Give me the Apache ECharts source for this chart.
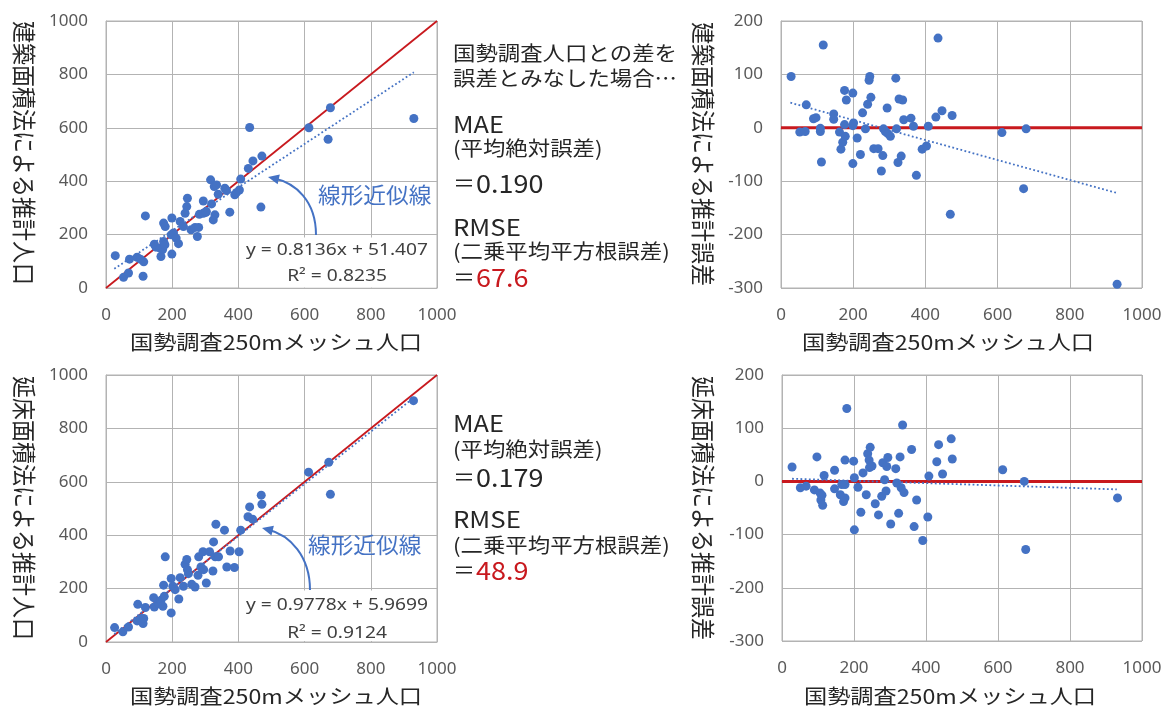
<!DOCTYPE html>
<html>
<head>
<meta charset="utf-8">
<script src="https://cdn.jsdelivr.net/npm/echarts@6/dist/echarts.min.js"></script>
<style>
html, body { margin: 0; padding: 0; background: #fff; }
#main { width: 1166px; height: 706px; }
</style>
</head>
<body>
<div id="main"></div>
<script>
// 建築面積法：推計人口（上段左）
const buildingEst = [
  [28,121],[53,40],[68,56],[71,108],[94,115],[104,108],[114,98],[112,44],[119,270],
  [146,164],[151,153],[164,149],[166,118],[171,144],[174,174],[174,243],[178,162],[179,230],
  [199,127],[197,199],[199,262],[204,206],[212,187],[219,166],[224,249],[234,230],
  [239,280],[244,305],[246,336],[257,218],[269,227],[276,193],[280,227],[282,276],
  [294,280],[294,326],[302,283],[303,287],[316,405],[319,315],[324,255],[329,274],[327,380],
  [334,386],[339,351],[359,374],[364,365],[374,284],[389,349],[394,357],[403,367],
  [407,408],[430,448],[444,476],[434,601],[471,494],[468,303],[613,600],[678,675],
  [671,557],[930,635]
];
// 建築面積法：推計誤差（上段右）
const buildingErr = [
  [28,96],[52,-8],[67,-7],[70,43],[90,17],[97,19],[109,-1],[109,-7],[112,-64],[117,155],
  [146,26],[146,16],[162,-8],[166,-40],[171,-27],[176,6],[176,70],[178,-16],[181,52],
  [199,65],[199,4],[199,-67],[201,9],[211,-19],[220,-50],[226,28],[234,-2],[240,44],
  [244,89],[246,96],[249,57],[257,-39],[269,-39],[278,-81],[282,-52],[284,-2],[289,-7],
  [294,37],[296,-11],[303,-16],[318,93],[320,-2],[324,-65],[327,54],[333,-53],[337,52],
  [340,15],[360,18],[367,3],[375,-89],[391,-40],[403,-34],[408,3],[429,20],[435,168],
  [446,32],[469,-162],[474,23],[612,-9],[672,-114],[679,-2],[931,-293]
];
// 延床面積法：推計人口（下段左）
const floorEst = [
  [26,54],[51,38],[68,56],[94,79],[96,141],[106,88],[112,69],[114,88],[119,129],
  [144,166],[146,131],[159,144],[166,156],[172,134],[174,213],[179,319],[176,171],
  [197,109],[197,238],[202,209],[209,196],[220,161],[224,241],[234,209],[239,291],
  [244,309],[246,271],[249,256],[259,216],[269,206],[278,250],[280,319],[287,281],
  [293,338],[295,271],[303,221],[313,338],[323,266],[325,375],[330,319],[340,319],
  [332,441],[358,419],[365,281],[375,341],[388,279],[402,338],[407,419],[429,469],
  [434,506],[443,460],[469,550],[471,516],[612,636],[673,673],[678,553],[929,904]
];
// 延床面積法：推計誤差（下段右）
const floorErr = [
  [28,27],[51,-12],[67,-9],[90,-16],[97,46],[106,-22],[111,-26],[108,-35],[113,-45],
  [117,11],[146,-14],[146,21],[162,-25],[166,-6],[171,-38],[175,-31],[175,-6],[175,40],
  [180,137],[199,38],[201,-91],[201,7],[211,-11],[219,-58],[225,16],[234,-25],[238,52],
  [242,40],[245,64],[243,26],[250,29],[259,-42],[268,-63],[277,-28],[280,35],[285,3],
  [289,-18],[291,28],[294,45],[302,-80],[316,24],[319,-3],[324,-60],[328,46],[331,-12],
  [335,106],[339,-21],[360,60],[367,-85],[374,-35],[391,-111],[405,-67],[408,10],
  [430,37],[435,69],[446,14],[470,80],[473,42],[613,22],[673,0],[677,-128],[932,-31]
];

// 線形近似線（端点）
const buildingTrend = [[25,72],[930,808]];
const buildingErrTrend = [[26,47],[930,-122]];
const floorTrend = [[25,30],[930,915]];
const floorErrTrend = [[28,5],[930,-15]];
// 基準線
const identityLine = [[0,0],[1000,1000]];
const zeroLine = [[0,0],[1000,0]];

const statsTop = { mae: '0.190', rmse: '67.6', eq: 'y = 0.8136x + 51.407', r2: 'R² = 0.8235' };
const statsBottom = { mae: '0.179', rmse: '48.9', eq: 'y = 0.9778x + 5.9699', r2: 'R² = 0.9124' };

const jp = '"Noto Sans CJK JP", "Noto Sans", sans-serif';
const num = '"Noto Sans", "Liberation Sans", sans-serif';
const gridColor = '#b3b3b3';
const blue = '#4472c4';
const red = '#c8191e';

function plainNum(v) { return String(v); }

function xAxis(i) {
  return {
    type: 'value', gridIndex: i, min: 0, max: 1000, interval: 200,
    axisLine: { show: true, lineStyle: { color: gridColor } },
    axisTick: { show: false },
    splitLine: { show: true, lineStyle: { color: gridColor } },
    axisLabel: { color: '#595959', fontSize: 17, fontFamily: num, margin: 19, formatter: plainNum }
  };
}
function yAxis(i, min, max, interval) {
  return {
    type: 'value', gridIndex: i, min: min, max: max, interval: interval,
    axisLine: { show: true, lineStyle: { color: gridColor } },
    axisTick: { show: false },
    splitLine: { show: true, lineStyle: { color: gridColor } },
    axisLabel: { color: '#595959', fontSize: 17, fontFamily: num, margin: 18, formatter: plainNum }
  };
}

function refLine(i, data, width) {
  return {
    type: 'line', xAxisIndex: i, yAxisIndex: i, data: data, symbol: 'none',
    silent: true, z: 2, lineStyle: { color: red, width: width }
  };
}
function dots(i, data) {
  return {
    type: 'scatter', xAxisIndex: i, yAxisIndex: i, data: data, symbolSize: 9,
    z: 3, itemStyle: { color: blue, opacity: 1 }
  };
}
function trend(i, data) {
  return {
    type: 'line', xAxisIndex: i, yAxisIndex: i, data: data, symbol: 'none',
    silent: true, z: 4, lineStyle: { color: blue, width: 1.8, type: [1.8, 2.4] }
  };
}

function txt(x, y, text, o) {
  o = o || {};
  return {
    type: 'text', x: x, y: y, z: 100,
    rotation: o.rot || 0, scaleX: o.sx || 1, scaleY: o.sy || 1,
    style: {
      text: text, fill: o.color || '#262626',
      font: (o.size || 20) + 'px ' + (o.family || jp),
      fontSize: o.size || 20, fontFamily: o.family || jp,
      textAlign: o.align || 'left', align: o.align || 'left',
      textVerticalAlign: 'middle', verticalAlign: 'middle'
    }
  };
}

function arrow(p0, p1, p2, p3) {
  const dx = p3[0] - p2[0], dy = p3[1] - p2[1];
  const len = Math.sqrt(dx * dx + dy * dy);
  const ux = dx / len, uy = dy / len;
  const bx = p3[0] - ux * 11, by = p3[1] - uy * 11;
  return [
    { type: 'bezierCurve', z: 100,
      shape: { x1: p0[0], y1: p0[1], cpx1: p1[0], cpy1: p1[1], cpx2: p2[0], cpy2: p2[1], x2: p3[0] - ux * 6, y2: p3[1] - uy * 6 },
      style: { stroke: blue, lineWidth: 2, fill: null } },
    { type: 'polygon', z: 100,
      shape: { points: [[p3[0], p3[1]], [bx - uy * 5, by + ux * 5], [bx + uy * 5, by - ux * 5]] },
      style: { fill: blue } }
  ];
}

function statsBlock(top, s, rows) {
  const out = [];
  if (top) {
    out.push(txt(453, rows[0], '国勢調査人口との差を', { sx: 1.12 }));
    out.push(txt(453, rows[1], '誤差とみなした場合…', { sx: 1.12 }));
  }
  out.push(txt(453, rows[2], 'MAE', { size: 23, sx: 1.1 }));
  out.push(txt(453, rows[3], '(平均絶対誤差)', { sx: 1.12 }));
  out.push(txt(453, rows[4], '＝', { size: 22 }));
  out.push(txt(476, rows[4], s.mae, { size: 25, sx: 1.08 }));
  out.push(txt(453, rows[5], 'RMSE', { size: 23, sx: 1.12 }));
  out.push(txt(453, rows[6], '(二乗平均平方根誤差)', { sx: 1.12 }));
  out.push(txt(453, rows[7], '＝', { size: 22 }));
  out.push(txt(476, rows[7], s.rmse, { size: 25, sx: 1.08, color: red }));
  return out;
}

const graphics = [].concat(
  // 近似式の白い枠
  [{ type: 'rect', z: 90, shape: { x: 239.5, y: 237.5, width: 196.5, height: 50 }, style: { fill: '#fff' } },
   { type: 'rect', z: 90, shape: { x: 239.5, y: 590.5, width: 196.5, height: 50.5 }, style: { fill: '#fff' } }],
  [txt(337, 250, statsTop.eq, { size: 17, family: num, align: 'center', sx: 1.13, color: '#404040' }),
   txt(337, 276, statsTop.r2, { size: 17, family: num, align: 'center', sx: 1.13, color: '#404040' }),
   txt(337, 605, statsBottom.eq, { size: 17, family: num, align: 'center', sx: 1.13, color: '#404040' }),
   txt(337, 633, statsBottom.r2, { size: 17, family: num, align: 'center', sx: 1.13, color: '#404040' })],
  [txt(318, 195, '線形近似線', { size: 22, color: blue, sx: 1.03 }),
   txt(308, 545, '線形近似線', { size: 22, color: blue, sx: 1.03 })],
  arrow([316, 235], [316, 200], [295, 183], [268, 177]),
  arrow([310, 590], [310, 556], [290, 535], [262, 528]),
  statsBlock(true, statsTop, [53, 78, 124, 148, 183, 227, 251, 277]),
  statsBlock(false, statsBottom, [0, 0, 423, 449, 477, 519, 545, 570]),
  // 軸タイトル
  [txt(24, 153, '建築面積法による推計人口', { size: 22, rot: -Math.PI / 2, align: 'center', sy: 1.1 }),
   txt(703, 154, '建築面積法による推計誤差', { size: 22, rot: -Math.PI / 2, align: 'center', sy: 1.1 }),
   txt(24, 508, '延床面積法による推計人口', { size: 22, rot: -Math.PI / 2, align: 'center', sy: 1.1 }),
   txt(703, 508, '延床面積法による推計誤差', { size: 22, rot: -Math.PI / 2, align: 'center', sy: 1.1 }),
   txt(276, 342, '国勢調査250mメッシュ人口', { size: 20, align: 'center', sx: 1.16 }),
   txt(948, 342, '国勢調査250mメッシュ人口', { size: 20, align: 'center', sx: 1.16 }),
   txt(276, 696, '国勢調査250mメッシュ人口', { size: 20, align: 'center', sx: 1.16 }),
   txt(950, 696, '国勢調査250mメッシュ人口', { size: 20, align: 'center', sx: 1.16 })]
);

const option = {
  animation: false,
  backgroundColor: '#fff',
  grid: [
    { left: 106, top: 21, width: 331, height: 267 },
    { left: 781, top: 21, width: 361, height: 267 },
    { left: 106, top: 375, width: 331, height: 267 },
    { left: 782, top: 375, width: 360, height: 266 }
  ].map(g => Object.assign(g, { show: true, borderColor: gridColor, borderWidth: 1, outerBoundsMode: 'none', containLabel: false })),
  xAxis: [xAxis(0), xAxis(1), xAxis(2), xAxis(3)],
  yAxis: [
    yAxis(0, 0, 1000, 200),
    yAxis(1, -300, 200, 100),
    yAxis(2, 0, 1000, 200),
    yAxis(3, -300, 200, 100)
  ],
  series: [
    refLine(0, identityLine, 1.8), dots(0, buildingEst), trend(0, buildingTrend),
    refLine(1, zeroLine, 3), dots(1, buildingErr), trend(1, buildingErrTrend),
    refLine(2, identityLine, 1.8), dots(2, floorEst), trend(2, floorTrend),
    refLine(3, zeroLine, 3), dots(3, floorErr), trend(3, floorErrTrend)
  ],
  graphic: graphics
};

const chart = echarts.init(document.getElementById('main'));
chart.setOption(option);
</script>
</body>
</html>
